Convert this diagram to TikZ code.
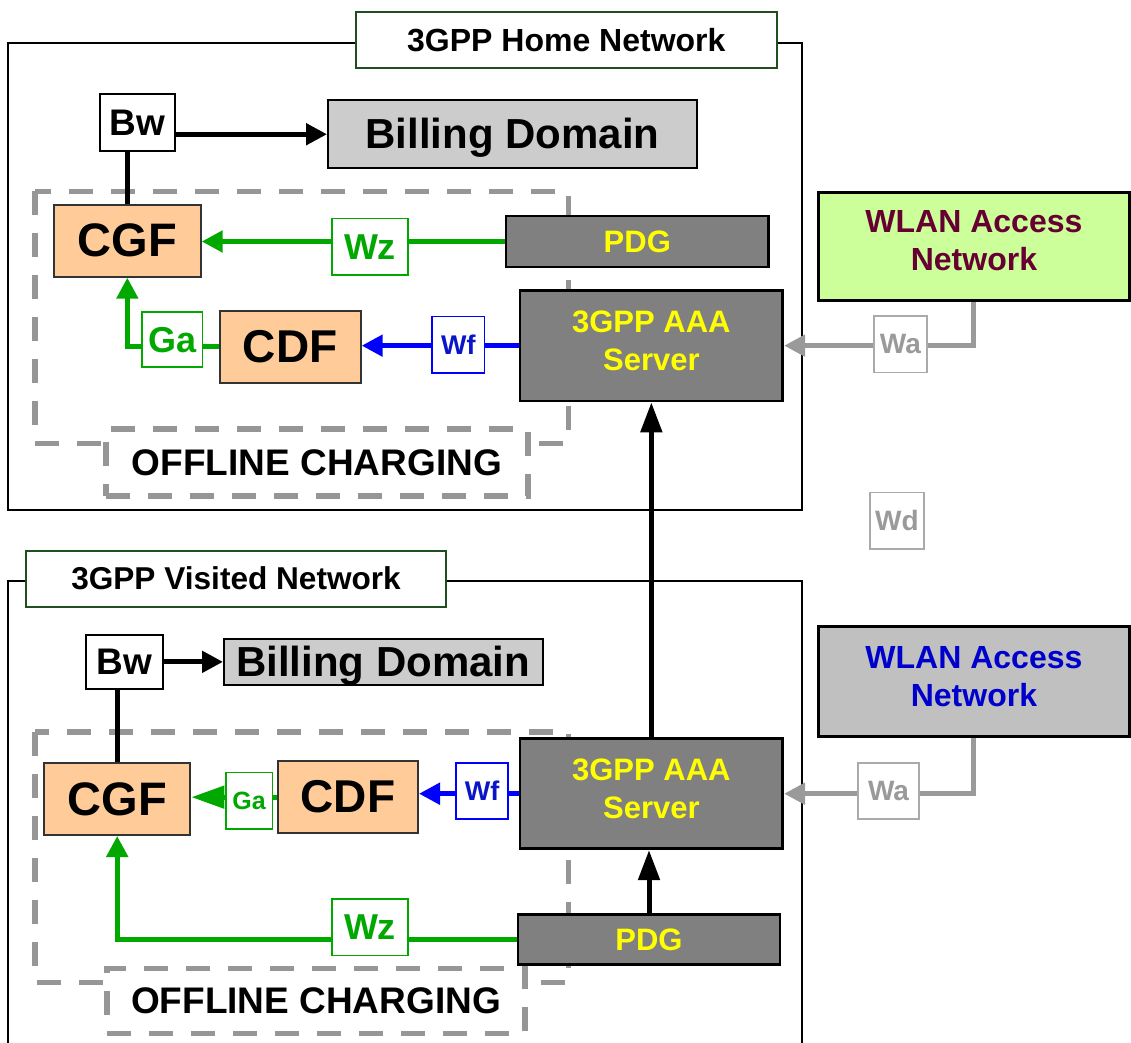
\documentclass[tikz,border=0pt]{standalone}
\usepackage{fontspec}
\setmainfont{Liberation Sans}
\usetikzlibrary{arrows.meta}
\pgfdeclarelayer{back}
\pgfdeclarelayer{mid}
\pgfsetlayers{back,mid,main}

\definecolor{titlegreen}{HTML}{1F4F1F}
\definecolor{ifgreen}{HTML}{00A800}
\definecolor{ifblue}{HTML}{0000FF}
\definecolor{ifbluetext}{HTML}{0A14C8}
\definecolor{ifgray}{HTML}{9A9A9A}
\definecolor{ifgraybox}{HTML}{AAAAAA}
\definecolor{dashgray}{HTML}{969696}
\definecolor{peach}{HTML}{FFCC99}
\definecolor{billgray}{HTML}{CCCCCC}
\definecolor{srvgray}{HTML}{808080}
\definecolor{srvtext}{HTML}{FFFF00}
\definecolor{wlangreen}{HTML}{CCFF99}
\definecolor{wlanmaroon}{HTML}{660033}
\definecolor{wlangray}{HTML}{C0C0C0}
\definecolor{wlanblue}{HTML}{0000CC}

% font size helper: size and baseline skip in pt, bold
\newcommand\fz[2]{\fontsize{#1pt}{#2pt}\selectfont\bfseries}

% rectangular node given by its corners: name, style, x1, y1, x2, y2, text
\newcommand\boxat[7]{%
  \node[#2, minimum width={(#5-#3)*0.5pt}, minimum height={(#6-#4)*0.5pt}]
    (#1) at ({(#3+#5)/2},{(#4+#6)/2}) {#7};}

\tikzset{
  base/.style={draw, inner sep=0pt, align=center},
  frame/.style={draw=black, line width=1pt},
  title/.style={base, draw=titlegreen, line width=1pt, fill=white},
  refpt/.style={base, draw=black, line width=1pt, fill=white, font=\fz{18.5}{22}},
  billing/.style={base, draw=black, line width=1pt, fill=billgray, font=\fz{21}{25},
    text height=14.4pt, text depth=0pt},
  func/.style={base, draw=black!80, line width=1pt, fill=peach},
  server/.style={base, draw=black, line width=1.4pt, fill=srvgray, text=srvtext, font=\fz{15.5}{19}},
  aaa/.style={server, text depth=4.6pt},
  wlanhome/.style={base, draw=black, line width=1.4pt, fill=wlangreen, text=wlanmaroon,
    font=\fz{16}{19}, text depth=5.8pt},
  wlanvis/.style={base, draw=black, line width=1.4pt, fill=wlangray, text=wlanblue,
    font=\fz{16}{19}, text depth=5.4pt},
  iflabelg/.style={base, draw=ifgreen, line width=0.8pt, fill=white, text=ifgreen},
  iflabelb/.style={base, draw=ifblue, line width=0.8pt, fill=white, text=ifbluetext, font=\fz{13.5}{16}},
  iflabelx/.style={base, draw=ifgraybox, line width=0.8pt, fill=white, text=ifgray, font=\fz{14}{17}},
  dashbox/.style={draw=dashgray, line width=2.7pt, dash pattern=on 12pt off 9pt},
  offlabel/.style={base, dashbox, fill=white, text=black, font=\fz{18.5}{22}},
  conn/.style={line width=2.5pt},
  tipn/.style={-{Triangle[length=10.5pt,width=10.5pt]}},
  tipl/.style={-{Triangle[length=15pt,width=10.5pt]}},
  tipga/.style={-{Triangle[length=16.5pt,width=11pt]}},
}

\begin{document}
\begin{tikzpicture}[x=0.5pt,y=-0.5pt]
\useasboundingbox (0,0) rectangle (1131,1043);
\clip (0,0) rectangle (1131,1043);

% network frames and offline charging areas
\begin{pgfonlayer}{back}
  \draw[frame] (8,42.7) rectangle (802.2,510);
  \draw[frame] (8,580.7) rectangle (802.2,1080);
  \draw[dashbox] (35,191.5) rectangle (568.4,443.3);
  \draw[dashbox] (35,732) rectangle (568.4,982.5);
\end{pgfonlayer}

% ---------------- home network ----------------
\boxat{homeTitle}{title, font=\fz{16}{19}}{356}{12.5}{776.7}{68.5}{3GPP Home Network}
\boxat{hBw}{refpt}{99.6}{94.3}{174.6}{150.7}{Bw}
\boxat{hBill}{billing}{328}{100}{696.7}{168.5}{Billing Domain}
\boxat{hCGF}{func, font=\fz{23.5}{28}}{54}{204.7}{200.7}{276.7}{CGF}
\boxat{hPDG}{server}{506}{216}{768.6}{267}{PDG}
\boxat{hCDF}{func, font=\fz{23}{28}}{219.6}{310.7}{360.7}{383}{CDF}
\boxat{hAAA}{aaa}{520}{290.3}{782.7}{401}{3GPP AAA\\Server}
\boxat{hWLAN}{wlanhome}{818.4}{192.5}{1129.5}{300.7}{WLAN Access\\Network}
\boxat{hOff}{offlabel}{106}{429}{527.8}{496}{OFFLINE CHARGING}

% ---------------- visited network ----------------
\boxat{visTitle}{title, font=\fz{15.8}{19}}{25.7}{550.7}{446.4}{606.7}{3GPP Visited Network}
\boxat{vBw}{refpt}{86}{634.7}{162.5}{689}{Bw}
\boxat{vBill}{billing}{224}{638.7}{542.5}{685}{Billing Domain}
\boxat{vCGF}{func, font=\fz{23.5}{28}}{44}{762.7}{190.4}{835}{CGF}
\boxat{vCDF}{func, font=\fz{23}{28}}{278}{761}{418}{833.3}{CDF}
\boxat{vAAA}{aaa}{520}{738.7}{782.7}{848.7}{3GPP AAA\\Server}
\boxat{vPDG}{server}{518}{914.5}{780}{964.7}{PDG}
\boxat{vWLAN}{wlanvis}{818.4}{626.7}{1129.5}{736.7}{WLAN Access\\Network}
\boxat{vOff}{offlabel}{107}{968.3}{525}{1033.3}{OFFLINE CHARGING}

% ---------------- connectors ----------------
\begin{pgfonlayer}{mid}
  % home network
  \draw[conn, tipn] (hBw.east |- hBill.west) -- (hBill.west);
  \draw[conn] (hBw.south -| hCGF.north) -- (hCGF.north);
  \draw[conn, ifgreen, tipn] (hPDG.west) -- (hPDG.west -| hCGF.east);
  \draw[conn, ifgreen, tipn] (hCDF.west) -| (hCGF.south);
  \draw[conn, ifblue, tipn] (hAAA.west) -- (hAAA.west -| hCDF.east);
  \draw[conn, ifgray, tipn] (hWLAN.south) |- (hAAA.east);
  % roaming link between the two AAA servers
  \draw[conn, tipl] (vAAA.north) -- (hAAA.south);
  % visited network
  \draw[conn, tipn] (vBw.east |- vBill.west) -- (vBill.west);
  \draw[conn] (vBw.south -| vCGF.north) -- (vCGF.north);
  \draw[conn, ifgreen, tipga] (vCDF.west) -- (vCDF.west -| vCGF.east);
  \draw[conn, ifblue, tipn] (vAAA.west) -- (vAAA.west -| vCDF.east);
  \draw[conn, ifgreen, tipn] (vPDG.west) -| (vCGF.south);
  \draw[conn, tipl] (vPDG.north) -- (vPDG.north |- vAAA.south);
  \draw[conn, ifgray, tipn] (vWLAN.south) |- (vAAA.east);
\end{pgfonlayer}

% ---------------- reference point labels ----------------
\boxat{hWzL}{iflabelg, font=\fz{18}{21}}{331.8}{218.7}{408.2}{275}{Wz}
\boxat{hGaL}{iflabelg, font=\fz{18}{21}}{142}{312.3}{202.5}{367.3}{Ga}
\boxat{hWfL}{iflabelb}{432}{316.7}{484.6}{373}{Wf}
\boxat{hWaL}{iflabelx}{874}{316.3}{926.8}{372.7}{Wa}
\boxat{wdL}{iflabelx}{870}{492.7}{924}{549}{Wd}
\boxat{vGaL}{iflabelg, font=\fz{12.5}{15}}{225.7}{772.3}{272.5}{829}{Ga}
\boxat{vWfL}{iflabelb}{456}{762.7}{508}{819}{Wf}
\boxat{vWzL}{iflabelg, font=\fz{18}{21}}{331.8}{898.7}{408.2}{955.3}{Wz}
\boxat{vWaL}{iflabelx}{858}{762.7}{919}{819}{Wa}
\end{tikzpicture}
\end{document}
